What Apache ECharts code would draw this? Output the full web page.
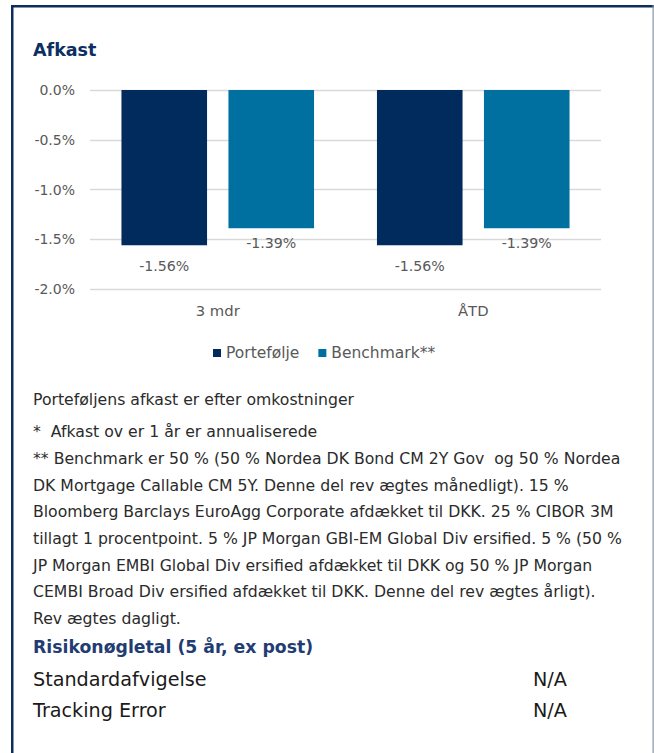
<!DOCTYPE html>
<html>
<head>
<meta charset="utf-8">
<script src="https://cdn.jsdelivr.net/npm/echarts@6/dist/echarts.min.js"></script>
<style>
html,body{margin:0;padding:0;background:#fff;}
#chart{width:654px;height:753px;}
</style>
</head>
<body>
<div id="chart"></div>
<script>
const categories = ['3 mdr', 'ÅTD'];
const portefolje = [-1.56, -1.56];
const benchmark = [-1.39, -1.39];
const seriesNames = ['Portefølje', 'Benchmark**'];
const yTicks = { min: -2, max: 0, interval: 0.5 };
const chartTitle = 'Afkast';
const notes = [
  'Porteføljens afkast er efter omkostninger',
  '*  Afkast ov er 1 år er annualiserede',
  '** Benchmark er 50 % (50 % Nordea DK Bond CM 2Y Gov  og 50 % Nordea',
  'DK Mortgage Callable CM 5Y. Denne del rev ægtes månedligt). 15 %',
  'Bloomberg Barclays EuroAgg Corporate afdækket til DKK. 25 % CIBOR 3M',
  'tillagt 1 procentpoint. 5 % JP Morgan GBI-EM Global Div ersified. 5 % (50 %',
  'JP Morgan EMBI Global Div ersified afdækket til DKK og 50 % JP Morgan',
  'CEMBI Broad Div ersified afdækket til DKK. Denne del rev ægtes årligt).',
  'Rev ægtes dagligt.'
];
const riskTitle = 'Risikonøgletal (5 år, ex post)';
const riskLabels = ['Standardafvigelse', 'Tracking Error'];
const riskValues = ['N/A', 'N/A'];

const FONT = 'DejaVu Sans';
const NAVY = '#002b5c';
const TEAL = '#0070a0';
const noteY = [399, 431, 458, 485, 511, 538, 565, 591, 618];

const graphics = [
  { type: 'rect', shape: { x: 11, y: 5, width: 643, height: 2.5 }, style: { fill: '#0c2d5e' }, silent: true },
  { type: 'rect', shape: { x: 11, y: 5, width: 2.5, height: 748 }, style: { fill: '#0c2d5e' }, silent: true },
  { type: 'rect', shape: { x: 652.5, y: 5, width: 1.2, height: 748 }, style: { fill: '#8a95a5' }, silent: true },
  { type: 'text', x: 33, y: 50, style: { text: chartTitle, font: 'bold 17.5px "' + FONT + '"', fill: '#0b2f62', textVerticalAlign: 'middle' } }
];
notes.forEach((t, i) => {
  graphics.push({ type: 'text', x: 33, y: noteY[i], style: { text: t, font: '15.7px "' + FONT + '"', fill: '#2b2b2b', textVerticalAlign: 'middle' } });
});
graphics.push({ type: 'text', x: 33, y: 647, style: { text: riskTitle, font: 'bold 17.3px "' + FONT + '"', fill: '#1f3d73', textVerticalAlign: 'middle' } });
riskLabels.forEach((t, i) => {
  graphics.push({ type: 'text', x: 33, y: 679 + i * 31, style: { text: t, font: '19.2px "' + FONT + '"', fill: '#1a1a1a', textVerticalAlign: 'middle' } });
  graphics.push({ type: 'text', x: 533, y: 679 + i * 31, style: { text: riskValues[i], font: '19.2px "' + FONT + '"', fill: '#1a1a1a', textVerticalAlign: 'middle' } });
});

const chart = echarts.init(document.getElementById('chart'), null, { renderer: 'svg' });
chart.setOption({
  animation: false,
  textStyle: { fontFamily: FONT },
  grid: { left: 90, right: 53, top: 90, bottom: 464, containLabel: false },
  legend: {
    left: 208, top: 340,
    itemWidth: 8, itemHeight: 8, itemGap: 19,
    icon: 'rect',
    textStyle: { fontSize: 15.5, color: '#595959', fontFamily: FONT },
    data: seriesNames
  },
  xAxis: {
    type: 'category', data: categories,
    axisLine: { show: false }, axisTick: { show: false },
    axisLabel: { fontSize: 14.8, color: '#595959', margin: 14 }
  },
  yAxis: {
    type: 'value', min: yTicks.min, max: yTicks.max, interval: yTicks.interval,
    axisLabel: { fontSize: 14, color: '#595959', margin: 15, formatter: v => v.toFixed(1) + '%' },
    splitLine: { lineStyle: { color: '#d9d9d9', width: 1.3 } },
    axisLine: { show: false }, axisTick: { show: false }
  },
  series: [
    {
      name: seriesNames[0], type: 'bar', data: portefolje,
      barWidth: '33.5%', barGap: '25%', barCategoryGap: '25%',
      itemStyle: { color: NAVY },
      label: { show: true, position: 'bottom', distance: 14, fontSize: 14.2, color: '#595959', formatter: p => p.value.toFixed(2) + '%' }
    },
    {
      name: seriesNames[1], type: 'bar', data: benchmark,
      barWidth: '33.5%', barGap: '25%',
      itemStyle: { color: TEAL },
      label: { show: true, position: 'bottom', distance: 8, fontSize: 14.2, color: '#595959', formatter: p => p.value.toFixed(2) + '%' }
    }
  ],
  graphic: graphics
});
</script>
</body>
</html>
